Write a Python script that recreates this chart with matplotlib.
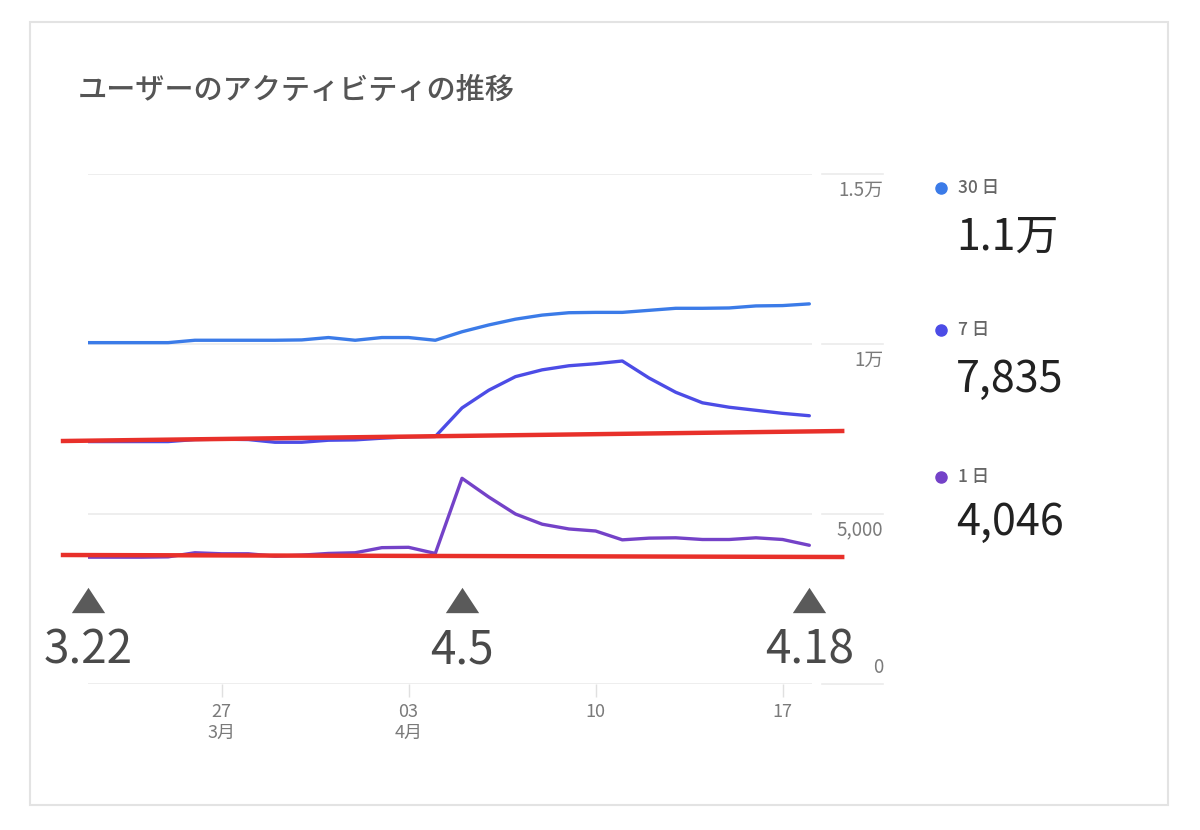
import matplotlib
matplotlib.use("Agg")
import matplotlib.pyplot as plt
from matplotlib.lines import Line2D
from matplotlib.patches import Rectangle
import matplotlib.transforms as mtransforms

plt.rcParams['font.family'] = ['Noto Sans CJK JP', 'DejaVu Sans']

# ---- data ----
days = list(range(28))  # 3/22 .. 4/18
users_30d = [10040, 10040, 10040, 10040, 10110, 10110, 10110, 10110, 10120, 10190,
             10110, 10190, 10190, 10110, 10360, 10560, 10730, 10850, 10920, 10930,
             10930, 10990, 11050, 11050, 11060, 11120, 11130, 11180]
users_7d = [7130, 7130, 7130, 7130, 7190, 7200, 7190, 7110, 7110, 7170,
            7180, 7230, 7270, 7280, 8120, 8640, 9040, 9240, 9360, 9420,
            9500, 9000, 8580, 8270, 8140, 8050, 7960, 7890]
users_1d = [3730, 3730, 3730, 3740, 3860, 3830, 3830, 3760, 3790, 3840,
            3860, 4010, 4020, 3840, 6050, 5500, 5000, 4700, 4560, 4500,
            4240, 4290, 4300, 4250, 4250, 4300, 4250, 4080]
series_labels = ["30 日", "7 日", "1 日"]
series_totals = ["1.1万", "7,835", "4,046"]
series_colors = ["#3b7be8", "#4c4ce6", "#7442c8"]

ytick_values = [0, 5000, 10000, 15000]
ytick_labels = ["0", "5,000", "1万", "1.5万"]
xtick_days = [5, 12, 19, 26]
xtick_labels = ["27\n3月", "03\n4月", "10", "17"]

# annotation (red baseline guides and date markers)
guide_x = [-0.935, 28.23]
guide_upper = [7147, 7441]
guide_lower = [3794, 3735]
marker_days = [0, 14, 27]
marker_labels = ["3.22", "4.5", "4.18"]
marker_y = 2470
marker_label_y = 1000

title = "ユーザーのアクティビティの推移"

# ---- figure ----
W, H = 1200, 830
fig = plt.figure(figsize=(W / 100, H / 100), dpi=100)
fig.patch.set_facecolor("white")

def fx(px):
    return px / W

def fy(py):
    return 1 - py / H

# card border
fig.patches.append(Rectangle((fx(30), fy(805)), fx(1168) - fx(30), fy(22) - fy(805),
                             transform=fig.transFigure, fill=False,
                             edgecolor="#e3e3e3", linewidth=1.5))

ax_l, ax_r, ax_b, ax_t = 88, 812, 684, 174
ax = fig.add_axes([fx(ax_l), fy(ax_b), fx(ax_r) - fx(ax_l), fy(ax_t) - fy(ax_b)])
ax.set_xlim(0, 27.1)
ax.set_ylim(0, 15000)
for s in ax.spines.values():
    s.set_visible(False)
ax.set_yticks([])

# gridlines
for v in ytick_values:
    ax.axhline(v, color="#ebebeb", linewidth=1.2, zorder=0)
trans_blend = mtransforms.blended_transform_factory(ax.transAxes, ax.transData)
seg_x0 = (822 - ax_l) / (ax_r - ax_l)
seg_x1 = (883 - ax_l) / (ax_r - ax_l)
for v, lab in zip(ytick_values, ytick_labels):
    ax.plot([seg_x0, seg_x1], [v, v], transform=trans_blend, color="#ebebeb",
            linewidth=1.2, clip_on=False)
    off = 500 if v == 0 else -470
    ax.text(seg_x1, v + off, lab, transform=trans_blend, ha="right", va="center",
            fontsize=13.5, color="#7a7a7a")

# x ticks
ax.set_xticks(xtick_days)
ax.set_xticklabels(xtick_labels, fontsize=13, color="#7a7a7a", linespacing=1.2)
ax.tick_params(axis="x", length=9, width=1, color="#e0e0e0", pad=5)

# series lines
for vals, col in zip([users_30d, users_7d, users_1d], series_colors):
    ax.plot(days, vals, color=col, linewidth=2.4, solid_capstyle="round",
            solid_joinstyle="round", zorder=3)

# red guides
ax.plot(guide_x, guide_upper, color="#e8302a", linewidth=3.2, clip_on=False, zorder=4)
ax.plot(guide_x, guide_lower, color="#e8302a", linewidth=3.2, clip_on=False, zorder=4)

# date markers
tri = [(-1.0, -0.76), (1.0, -0.76), (0.0, 0.76), (-1.0, -0.76)]
ax.scatter(marker_days, [marker_y] * len(marker_days), marker=tri, s=24 ** 2,
           color="#5a5a5a", clip_on=False, zorder=5, linewidths=0)
for d, lab in zip(marker_days, marker_labels):
    ax.text(d, marker_label_y, lab, ha="center", va="center", fontsize=33,
            color="#4a4a4a", clip_on=False)

# title
fig.text(fx(78), fy(90), title, fontsize=21, color="#555555", ha="left",
         va="center", fontweight="medium")

# legend
legend_y = [188, 330, 477]
value_y = [238, 380, 523]
for lab, tot, col, ly, vy in zip(series_labels, series_totals, series_colors,
                                  legend_y, value_y):
    fig.add_artist(Line2D([fx(941)], [fy(ly)], marker="o", markersize=8,
                          color=col, transform=fig.transFigure, linestyle="none"))
    fig.text(fx(958), fy(ly), lab, fontsize=12.5, color="#666666", ha="left",
             va="center", fontweight="medium")
    fig.text(fx(956), fy(vy), tot, fontsize=31, color="#222222", ha="left",
             va="center")

fig.savefig("out.png", dpi=100, facecolor="white")
